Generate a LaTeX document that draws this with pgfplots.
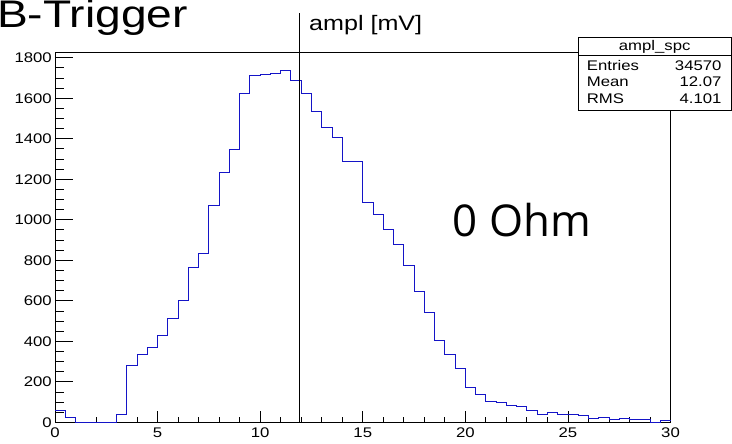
\documentclass[border=0pt]{standalone}
\usepackage{fontspec}
\setmainfont{Liberation Sans}[FakeStretch=1.2]
\newfontfamily\ohmfont{Open Sans}
\usepackage{pgfplots}
\pgfplotsset{compat=1.18}
\definecolor{histblue}{rgb}{0.08,0.08,0.78}

\begin{document}
\begin{tikzpicture}[x=1bp,y=1bp]
\useasboundingbox (0,0) rectangle (732,444);
\begin{axis}[
  at={(55bp,21.7bp)}, anchor=south west,
  scale only axis, width=615.5bp, height=369.6bp,
  xmin=0, xmax=30, ymin=0, ymax=1825,
  xtick={0,5,...,30}, ytick={0,200,...,1800},
  minor x tick num=4, minor y tick num=3,
  tick pos=left, tick align=inside,
  xtick style={/pgfplots/major tick length=11bp, /pgfplots/minor tick length=5.5bp, black, line width=0.8bp},
  ytick style={/pgfplots/major tick length=18bp, /pgfplots/minor tick length=9bp, black, line width=0.8bp},
  axis line style={line width=0.8bp},
  /pgf/number format/assume math mode=true,
  /pgf/number format/1000 sep={},
  tick label style={font=\fontsize{14}{14}\selectfont},
  xticklabel style={anchor=north, inner sep=0pt, yshift=-5.5bp},
  yticklabel style={anchor=east, inner sep=0pt, xshift=-3bp},
  clip=false,
]
% ampl_spc, bins of 0.5 mV (left edges)
\addplot[const plot, histblue, line width=0.9bp] coordinates {
  (0,57) (0.5,25) (1,0) (1.5,0) (2,0) (2.5,0) (3,41) (3.5,283) (4,336) (4.5,370)
  (5,430) (5.5,513) (6,600) (6.5,763) (7,834) (7.5,1070) (8,1235) (8.5,1348) (9,1623) (9.5,1713)
  (10,1718) (10.5,1723) (11,1736) (11.5,1689) (12,1623) (12.5,1534) (13,1457) (13.5,1405) (14,1287) (14.5,1290)
  (15,1086) (15.5,1025) (16,953) (16.5,877) (17,775) (17.5,648) (18,540) (18.5,405) (19,336) (19.5,265)
  (20,174) (20.5,138) (21,105) (21.5,99) (22,84) (22.5,77) (23,59) (23.5,39) (24,47) (24.5,40)
  (25,38) (25.5,33) (26,20) (26.5,23) (27,16) (27.5,20) (28,15) (28.5,15) (29,1) (29.5,8)
  (30,8)
};
\end{axis}

% titles
\node[anchor=base west, inner sep=0pt, font=\fontsize{38.6}{40}\selectfont] at (-3,416.5) {B-Trigger};
\node[anchor=base west, inner sep=0pt, font=\fontsize{21}{22}\selectfont] at (309,413) {ampl [mV]};
\node[anchor=base west, inner sep=0pt, font=\ohmfont\fontsize{44}{46}\selectfont] at (452.5,207.3) {0 Ohm};

% vertical marker line
\draw[line width=0.8bp] (299.3,21.7) -- (299.3,431.3);

% stats box
\draw[fill=white, line width=0.8bp] (578.3,334) rectangle (731,407);
\draw[line width=0.8bp] (578.3,388.5) -- (731,388.5);
\begin{scope}[font=\fontsize{14}{14}\selectfont]
\node[anchor=base, inner sep=0pt] at (654.7,393) {ampl\_spc};
\node[anchor=base west, inner sep=0pt] at (586.7,373) {Entries};
\node[anchor=base east, inner sep=0pt] at (721.7,373) {34570};
\node[anchor=base west, inner sep=0pt] at (586.7,357) {Mean};
\node[anchor=base east, inner sep=0pt] at (721.7,357) {12.07};
\node[anchor=base west, inner sep=0pt] at (586.7,340) {RMS};
\node[anchor=base east, inner sep=0pt] at (721.7,340) {4.101};
\end{scope}
\end{tikzpicture}
\end{document}
